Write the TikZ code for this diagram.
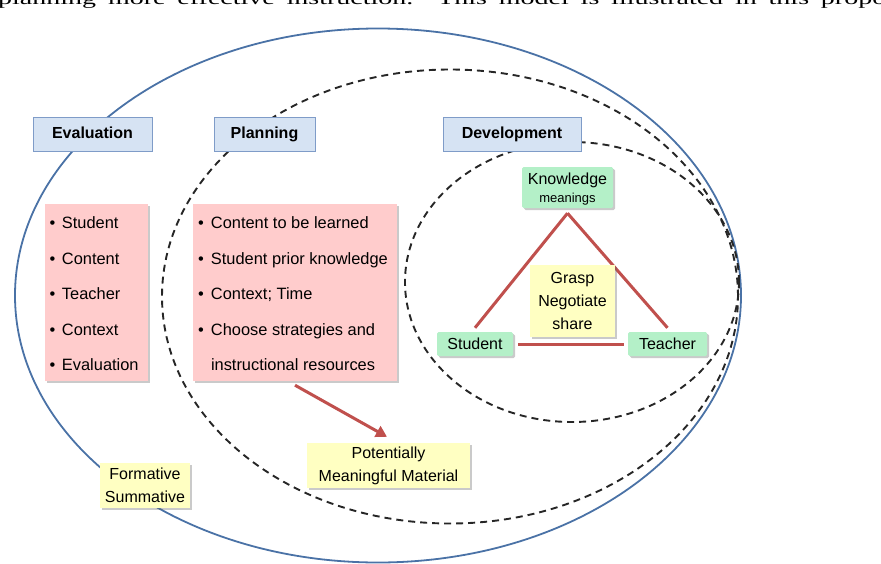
\documentclass[tikz,border=0pt]{standalone}
\usepackage{fontspec}
\setmainfont{Liberation Sans}
\newfontfamily\serifo{Liberation Serif}
\usetikzlibrary{shadows,arrows.meta}
\definecolor{hdrfill}{HTML}{D6E3F3}
\definecolor{hdrdraw}{HTML}{7F9CC8}
\definecolor{ellblue}{HTML}{4A72A6}
\definecolor{pinkf}{HTML}{FFCCCC}
\definecolor{greenf}{HTML}{B4F0C8}
\definecolor{yelf}{HTML}{FFFFC2}
\definecolor{redl}{HTML}{C0504D}
\begin{document}
\begin{tikzpicture}[x=1pt,y=-1pt,
  boxshadow/.style={drop shadow={shadow xshift=2pt,shadow yshift=-2pt,opacity=0.35,fill=black!60}},
  hdr/.style={draw=hdrdraw,fill=hdrfill,line width=1pt,inner sep=0pt,
    text height=12pt,text depth=3.5pt,
    font=\fontsize{16}{18}\selectfont\bfseries},
  pinkbox/.style={fill=pinkf,inner sep=0pt,boxshadow},
  grn/.style={fill=greenf,inner sep=0pt,rounded corners=1.5pt,boxshadow,
    font=\fontsize{16}{18}\selectfont},
  plaintxt/.style={inner sep=0pt},
  yel/.style={fill=yelf,inner sep=0pt,boxshadow,align=center,
    font=\fontsize{16}{23}\selectfont},
  item/.style={anchor=base west,inner sep=0pt,font=\fontsize{16.4}{18}\selectfont},
  outerell/.style={draw=ellblue,line width=1.8pt},
  dashell/.style={draw=black!85,line width=1.9pt,dash pattern=on 7pt off 5pt},
  redline/.style={draw=redl,line width=3pt}
]
\useasboundingbox (0,0) rectangle (881,563);
\begin{scope}
\clip (0,0) rectangle (881,563);
\node[anchor=base west,inner sep=0pt] (toptext) at (-2,4.5)
  {\scalebox{1}[0.65]{\serifo\fontsize{28}{28}\selectfont\makebox[888pt][s]{planning more effective instruction. This model is illustrated in this propo}}};
% ellipses
\path[outerell] (378,295.5) ellipse [x radius=363pt,y radius=267pt];
\path[dashell] (450,296.5) ellipse [x radius=288pt,y radius=227pt];
\path[dashell] (572,282) ellipse [x radius=167pt,y radius=140pt];
\end{scope}
% headers
\node[hdr,minimum width=119pt,minimum height=34pt] (evalh) at (92.5,134) {Evaluation};
\node[hdr,minimum width=101pt,minimum height=34pt] (planh) at (264.5,134) {Planning};
\node[hdr,minimum width=138pt,minimum height=34pt] (devh) at (512,134) {Development};
% pink boxes
\node[pinkbox,minimum width=103pt,minimum height=177pt] (evalbox) at (96.5,292.5) {};
\node[pinkbox,minimum width=204pt,minimum height=177pt] (planbox) at (295,292.5) {};
\node[item] (e1) at (49.5,228.5) {\makebox[12.3pt][l]{\textbullet}Student};
\node[item] (e2) at (49.5,264.1) {\makebox[12.3pt][l]{\textbullet}Content};
\node[item] (e3) at (49.5,299.7) {\makebox[12.3pt][l]{\textbullet}Teacher};
\node[item] (e4) at (49.5,335.3) {\makebox[12.3pt][l]{\textbullet}Context};
\node[item] (e5) at (49.5,370.9) {\makebox[12.3pt][l]{\textbullet}Evaluation};
\node[item] (p1) at (198,228.5) {\makebox[12.8pt][l]{\textbullet}Content to be learned};
\node[item] (p2) at (198,264.1) {\makebox[12.8pt][l]{\textbullet}Student prior knowledge};
\node[item] (p3) at (198,299.7) {\makebox[12.8pt][l]{\textbullet}Context; Time};
\node[item] (p4) at (198,335.3) {\makebox[12.8pt][l]{\textbullet}Choose strategies and};
\node[item] (p5) at (198,370.9) {\makebox[12.8pt][l]{}instructional resources};
% development triangle
\node[grn,minimum width=91pt,minimum height=41pt] (know) at (567.5,187.5) {};
\node[plaintxt,anchor=base,font=\fontsize{16}{18}\selectfont] (knowt) at (567.5,184) {Knowledge};
\node[plaintxt,anchor=base,font=\fontsize{13}{14}\selectfont] (meant) at (567.5,202.5) {meanings};
\node[grn,minimum width=76pt,minimum height=24pt] (stud) at (475,344) {Student};
\node[grn,minimum width=79pt,minimum height=24pt] (teach) at (667.5,344) {Teacher};
\draw[redline] ([yshift=-5pt]know.south) -- ([yshift=4pt]stud.north);
\draw[redline] ([yshift=-5pt]know.south) -- ([yshift=4pt]teach.north);
\draw[redline,shorten <=5pt,shorten >=4pt] (stud.east) -- (teach.west);
\node[yel,minimum width=85pt,minimum height=72pt] (grasp) at (572.5,301) {Grasp\\Negotiate\\share};
% bottom boxes
\node[yel,minimum width=163pt,minimum height=45pt] (pmm) at (388.5,465.5) {Potentially\\Meaningful Material};
\node[yel,minimum width=90pt,minimum height=45pt] (form) at (145,485.5) {Formative\\Summative};
\draw[redline,-{Triangle[length=11pt,width=12pt]}] ([yshift=-4pt]planbox.south) -- ([yshift=6pt,xshift=-1.5pt]pmm.north);
\end{tikzpicture}
\end{document}
